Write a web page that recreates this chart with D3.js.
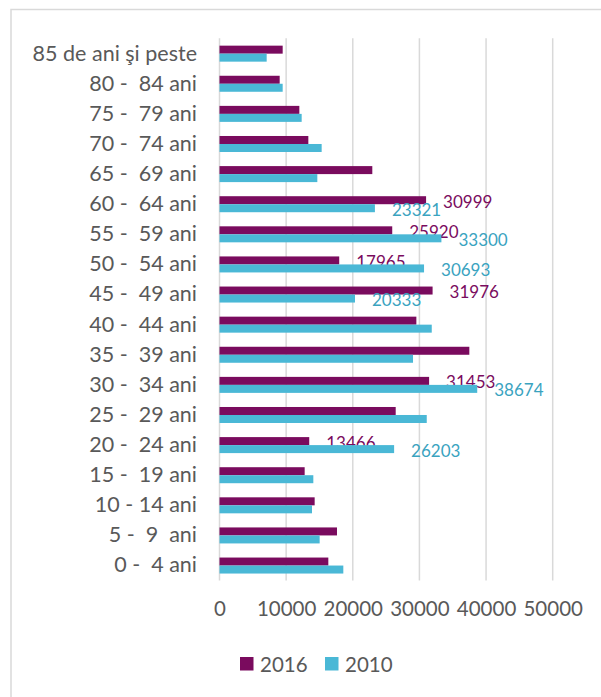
<!DOCTYPE html>
<html>
<head>
<meta charset="utf-8">
<script src="https://cdn.jsdelivr.net/npm/d3@7"></script>
<style>
  html, body { margin: 0; padding: 0; background: #fff; }
  svg { display: block; }
  text { font-family: Lato, "Open Sans", sans-serif; }
</style>
</head>
<body>
<svg id="chart" width="601" height="697"></svg>
<script>
// ---- data ----
const categories = ["85 de ani şi peste", "80 -  84 ani", "75 -  79 ani", "70 -  74 ani", "65 -  69 ani",
  "60 -  64 ani", "55 -  59 ani", "50 -  54 ani", "45 -  49 ani", "40 -  44 ani", "35 -  39 ani",
  "30 -  34 ani", "25 -  29 ani", "20 -  24 ani", "15 -  19 ani", "10 - 14 ani", "5 -  9  ani", "0 -  4 ani"];
const series = ["2016", "2010"];
const values2016 = [9480, 9030, 11980, 13330, 22930, 30999, 25920, 17965, 31976, 29540, 37490, 31453, 26440, 13466, 12780, 14280, 17630, 16330];
const values2010 = [7080, 9480, 12330, 15330, 14680, 23321, 33300, 30693, 20333, 31850, 29040, 38674, 31100, 26203, 14080, 13880, 15030, 18580];
const labeledCategories = ["60 -  64 ani", "55 -  59 ani", "50 -  54 ani", "45 -  49 ani", "30 -  34 ani", "20 -  24 ani"];
const xTicks = [0, 10000, 20000, 30000, 40000, 50000];

const colors = { "2016": "#7a0b5e", "2010": "#4ab8d6" };
const labelColors = { "2016": "#7a0b5e", "2010": "#3aa3bf" };
const valuesBySeries = { "2016": values2016, "2010": values2010 };

const svg = d3.select("#chart");

// frame
svg.append("rect").attr("x", 11).attr("y", 9.5).attr("width", 700).attr("height", 800)
  .attr("fill", "none").attr("stroke", "#d9d9d9").attr("stroke-width", 1.5);

const x = d3.scaleLinear().domain([0, 50000]).range([219.5, 552.7]);
const y = d3.scaleBand().domain(categories).range([38.6, 580.6]).padding(0);
const groupH = 16;
const inner = d3.scaleBand().domain(series).range([0, groupH]).padding(0);

// gridlines
svg.append("g").selectAll("line").data(xTicks).join("line")
  .attr("x1", d => x(d)).attr("x2", d => x(d))
  .attr("y1", 38.3).attr("y2", 580.5)
  .attr("stroke", "#d9d9d9").attr("stroke-width", 1.5);

// x axis labels
const xAxis = d3.axisBottom(x).tickValues(xTicks).tickSize(0).tickFormat(d3.format("d"));
const gx = svg.append("g").attr("transform", "translate(0,598)").call(xAxis);
gx.select(".domain").remove();
gx.selectAll("text").attr("fill", "#595959").attr("font-size", 20.5)
  .style("font-family", "Lato, 'Open Sans', sans-serif");

// y axis labels
const yAxis = d3.axisLeft(y).tickSize(0).tickPadding(0);
const gy = svg.append("g").attr("transform", "translate(197,0)").call(yAxis);
gy.select(".domain").remove();
gy.selectAll("text").attr("fill", "#595959").attr("font-size", 21.5)
  .attr("xml:space", "preserve").style("white-space", "pre")
  .style("font-family", "Lato, 'Open Sans', sans-serif");

// bars
const rows = categories.map((c, i) => ({ c, i }));
series.forEach(s => {
  svg.append("g").selectAll("rect").data(rows).join("rect")
    .attr("x", x(0))
    .attr("y", d => y(d.c) + y.bandwidth() / 2 - groupH / 2 + inner(s))
    .attr("width", d => x(valuesBySeries[s][d.i]) - x(0))
    .attr("height", inner.bandwidth())
    .attr("fill", colors[s]);

  svg.append("g").selectAll("text").data(rows.filter(d => labeledCategories.includes(d.c))).join("text")
    .attr("x", d => x(valuesBySeries[s][d.i]) + 17)
    .attr("y", d => y(d.c) + y.bandwidth() / 2 - groupH / 2 + inner(s) + inner.bandwidth() / 2 + 1)
    .attr("dominant-baseline", "central")
    .attr("fill", labelColors[s]).attr("font-size", 17)
    .text(d => valuesBySeries[s][d.i]);
});

// legend
const legend = svg.append("g").attr("transform", "translate(240,657)");
const lx = { "2016": 0, "2010": 85 };
series.forEach(s => {
  legend.append("rect").attr("x", lx[s]).attr("y", 0).attr("width", 13.5).attr("height", 13.5).attr("fill", colors[s]);
  legend.append("text").attr("x", lx[s] + 20).attr("y", 7).attr("dominant-baseline", "central")
    .attr("fill", "#595959").attr("font-size", 20.5).text(s);
});
</script>
</body>
</html>
